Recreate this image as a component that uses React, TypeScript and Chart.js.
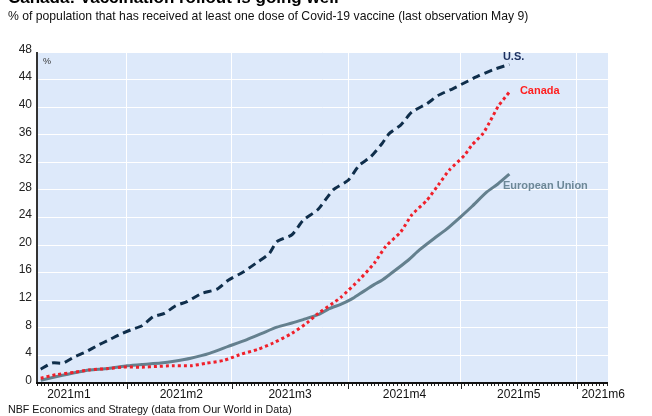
import React, { useEffect, useRef } from 'react';
import { Chart, registerables } from 'chart.js';

Chart.register(...registerables);

const TITLE = 'Canada: Vaccination rollout is going well';
const SUBTITLE =
  '% of population that has received at least one dose of Covid-19 vaccine (last observation May 9)';
const SOURCE = 'NBF Economics and Strategy (data from Our World in Data)';

// x values are days of 2021 counted from Jan 1 (= 0)
const usDays = [8, 11, 14, 17, 20, 23, 26, 29, 32, 35, 38, 41, 44, 47, 51, 55, 58, 62, 66, 69, 71, 75, 78, 82, 86, 90, 93, 96, 99, 101, 104, 107, 111, 114, 118, 122, 125, 129, 133];
const usValues = [2.0, 2.9, 2.9, 3.8, 4.5, 5.4, 6.2, 7.0, 7.7, 8.3, 9.6, 10.1, 11.2, 11.8, 13.0, 13.6, 14.9, 16.1, 17.6, 18.8, 20.5, 21.5, 23.6, 25.2, 28.0, 29.4, 31.6, 32.8, 34.7, 36.2, 37.4, 39.3, 40.5, 41.7, 42.7, 43.8, 44.6, 45.5, 46.2];

const canadaDays = [8, 12, 17, 21, 26, 30, 35, 39, 43, 48, 52, 57, 61, 66, 70, 75, 79, 82, 86, 88, 93, 97, 100, 104, 107, 111, 114, 117, 121, 123, 126, 128, 130, 133];
const canadaValues = [0.7, 1.2, 1.55, 1.9, 2.1, 2.3, 2.3, 2.4, 2.5, 2.5, 2.85, 3.3, 4.1, 4.9, 5.8, 7.2, 8.7, 10.1, 11.6, 12.4, 15.0, 17.4, 19.8, 21.9, 24.4, 26.5, 28.7, 30.9, 33.0, 34.5, 36.2, 38.1, 40.1, 42.2];

const euDays = [8, 12, 17, 21, 26, 31, 35, 40, 44, 48, 53, 58, 63, 67, 71, 75, 78, 82, 85, 88, 91, 93, 95, 97, 99, 101, 106, 109, 113, 116, 120, 123, 127, 130, 133];
const euValues = [0.4, 0.9, 1.5, 1.9, 2.1, 2.5, 2.7, 2.9, 3.2, 3.6, 4.3, 5.3, 6.3, 7.2, 8.1, 8.7, 9.2, 9.9, 10.8, 11.4, 12.2, 12.9, 13.6, 14.3, 14.9, 15.7, 17.8, 19.3, 21.0, 22.2, 24.1, 25.6, 27.7, 28.9, 30.3];

const monthStartDays = [31, 59, 90, 120, 151];
const monthLabels = ['2021m1', '2021m2', '2021m3', '2021m4', '2021m5', '2021m6'];
const monthLabelDays = [15.5, 45.5, 74.5, 105, 135.5, 158];
const X_MIN = 7;
const X_MAX = 159.3;
const Y_MIN = 0;
const Y_MAX = 48;
const Y_STEP = 4;

const FONT = '"Liberation Sans", Arial, Helvetica, sans-serif';

const seriesLabels = [
  { text: 'U.S.', color: '#1b2f5e', dx: -6.5, dy: -4.5 },
  { text: 'Canada', color: '#ff1f1f', dx: 10.5, dy: 2 },
  { text: 'European Union', color: '#6d8897', dx: -6.5, dy: 15 },
];

const toPoints = (xs: number[], ys: number[]) => xs.map((x, i) => ({ x, y: ys[i] }));

const decorPlugin = {
  id: 'decor',
  beforeDraw(chart: any) {
    const { ctx, chartArea: a } = chart;
    ctx.save();
    ctx.fillStyle = '#dde9fa';
    ctx.fillRect(a.left, a.top, a.right - a.left, a.bottom - a.top);
    ctx.restore();
  },
  afterDraw(chart: any) {
    const { ctx, chartArea: a } = chart;
    const xs = chart.scales.x;
    ctx.save();
    // axes lines
    ctx.strokeStyle = '#333';
    ctx.lineWidth = 2;
    ctx.beginPath();
    ctx.moveTo(a.left, a.top);
    ctx.lineTo(a.left, a.bottom + 1);
    ctx.stroke();
    ctx.strokeStyle = '#111';
    ctx.beginPath();
    ctx.moveTo(a.left - 1, a.bottom);
    ctx.lineTo(a.right, a.bottom);
    ctx.stroke();
    // minor daily ticks
    ctx.lineWidth = 1;
    ctx.strokeStyle = '#222';
    ctx.beginPath();
    for (let d = Math.ceil(X_MIN); d <= X_MAX; d++) {
      const px = Math.round(xs.getPixelForValue(d)) + 0.5;
      ctx.moveTo(px, a.bottom + 1);
      ctx.lineTo(px, a.bottom + 3);
    }
    ctx.stroke();
    ctx.beginPath();
    monthStartDays.forEach((d) => {
      const px = Math.round(xs.getPixelForValue(d)) + 0.5;
      ctx.moveTo(px, a.bottom + 1);
      ctx.lineTo(px, a.bottom + 6);
    });
    ctx.stroke();
    // month labels
    ctx.fillStyle = '#111';
    ctx.font = `12px ${FONT}`;
    ctx.textAlign = 'center';
    ctx.textBaseline = 'alphabetic';
    monthLabels.forEach((t, i) => {
      ctx.fillText(t, xs.getPixelForValue(monthLabelDays[i]), a.bottom + 14.5);
    });
    // % unit
    ctx.fillStyle = '#333';
    ctx.font = `9px ${FONT}`;
    ctx.textAlign = 'left';
    ctx.fillText('%', a.left + 6, a.top + 12);
    // series labels
    ctx.font = `bold 11px ${FONT}`;
    chart.data.datasets.forEach((ds: any, i: number) => {
      const meta = chart.getDatasetMeta(i);
      const last = meta.data[meta.data.length - 1];
      const lab = seriesLabels[i];
      ctx.fillStyle = lab.color;
      ctx.fillText(lab.text, last.x + lab.dx, last.y + lab.dy);
    });
    ctx.restore();
  },
};

export default function App() {
  const ref = useRef<HTMLCanvasElement>(null);
  useEffect(() => {
    if (!ref.current) return;
    Chart.defaults.font.family = FONT;
    const chart = new Chart(ref.current, {
      type: 'line',
      data: {
        datasets: [
          {
            label: 'U.S.',
            data: toPoints(usDays, usValues),
            borderColor: '#0f2e4b',
            borderWidth: 3,
            borderDash: [8, 5],
            pointRadius: 0,
            tension: 0.2,
            order: 2,
          },
          {
            label: 'Canada',
            data: toPoints(canadaDays, canadaValues),
            borderColor: '#f0202a',
            borderWidth: 3,
            borderDash: [3, 3],
            pointRadius: 0,
            tension: 0.2,
            order: 0,
          },
          {
            label: 'European Union',
            data: toPoints(euDays, euValues),
            borderColor: '#64808e',
            borderWidth: 3,
            pointRadius: 0,
            tension: 0.2,
            order: 1,
          },
        ],
      },
      options: {
        animation: false,
        responsive: false,
        parsing: false as any,
        layout: { padding: { top: 52, right: 44, left: 0, bottom: 0 } },
        plugins: { legend: { display: false }, tooltip: { enabled: false } },
        scales: {
          x: {
            type: 'linear',
            min: X_MIN,
            max: X_MAX,
            grid: { color: '#ffffff', lineWidth: 1, drawTicks: false },
            border: { display: false },
            ticks: { display: false },
            afterBuildTicks: (s: any) => {
              s.ticks = monthStartDays.map((v) => ({ value: v }));
            },
            afterFit: (s: any) => {
              s.height = 33;
            },
          },
          y: {
            min: Y_MIN,
            max: Y_MAX,
            grid: { color: '#ffffff', lineWidth: 1, drawTicks: false },
            border: { display: false },
            ticks: {
              stepSize: Y_STEP,
              padding: 5,
              labelOffset: -2.5,
              color: '#222',
              font: { size: 12, family: FONT },
            },
            afterFit: (s: any) => {
              s.width = 37;
            },
          },
        },
      },
      plugins: [decorPlugin],
    });
    return () => chart.destroy();
  }, []);

  return (
    <div
      style={{
        position: 'absolute',
        left: 0,
        top: 0,
        width: 652,
        height: 416,
        overflow: 'hidden',
        background: '#fff',
        fontFamily: FONT,
      }}
    >
      <canvas ref={ref} width={652} height={416} style={{ position: 'absolute', left: 0, top: 0, display: 'block' }} />
      <div style={{ position: 'absolute', left: 8, top: -10.9, fontSize: 17, lineHeight: '17px', fontWeight: 'bold', color: '#000', whiteSpace: 'nowrap' }}>
        {TITLE}
      </div>
      <div style={{ position: 'absolute', left: 8, top: 9.6, fontSize: 12.2, lineHeight: '12.2px', color: '#111', whiteSpace: 'nowrap' }}>
        {SUBTITLE}
      </div>
      <div style={{ position: 'absolute', left: 8, top: 404.2, fontSize: 10.7, lineHeight: '10.7px', color: '#111', whiteSpace: 'nowrap' }}>
        {SOURCE}
      </div>
    </div>
  );
}
